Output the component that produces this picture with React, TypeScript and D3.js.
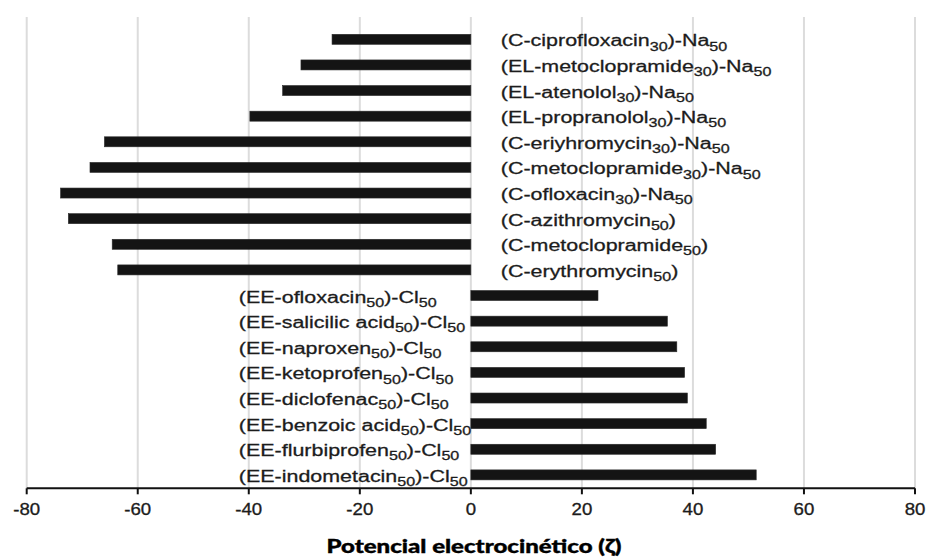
import React from "react";
import * as d3 from "d3";

// Formulation labels, top to bottom; {nn} marks a subscript.
const labels: string[] = [
  "(C-ciprofloxacin{30})-Na{50}",
  "(EL-metoclopramide{30})-Na{50}",
  "(EL-atenolol{30})-Na{50}",
  "(EL-propranolol{30})-Na{50}",
  "(C-eriyhromycin{30})-Na{50}",
  "(C-metoclopramide{30})-Na{50}",
  "(C-ofloxacin{30})-Na{50}",
  "(C-azithromycin{50})",
  "(C-metoclopramide{50})",
  "(C-erythromycin{50})",
  "(EE-ofloxacin{50})-Cl{50}",
  "(EE-salicilic acid{50})-Cl{50}",
  "(EE-naproxen{50})-Cl{50}",
  "(EE-ketoprofen{50})-Cl{50}",
  "(EE-diclofenac{50})-Cl{50}",
  "(EE-benzoic acid{50})-Cl{50}",
  "(EE-flurbiprofen{50})-Cl{50}",
  "(EE-indometacin{50})-Cl{50}",
];

// Zeta potential (mV) for each formulation, same order.
const zeta: number[] = [
  -25.0, -30.6, -33.9, -39.8, -66.0, -68.6, -73.9, -72.5, -64.6, -63.6,
  22.9, 35.4, 37.1, 38.5, 39.0, 42.4, 44.1, 51.4,
];

const xTicks: number[] = [-80, -60, -40, -20, 0, 20, 40, 60, 80];
const xTitle = "Potencial electrocinético (ζ)";

const W = 926;
const H = 558;

const x = d3.scaleLinear().domain([-80, 80]).range([26.7, 915]);
const y = d3.scaleBand<string>().domain(labels).range([26.5, 487.7]).padding(0);

const AXIS_Y = 488.3;
const BAR_H = 10;
const FONT = "'Liberation Sans', Arial, Helvetica, sans-serif";
const STRETCH = 1.24;
const INK = "#1c1c1c";

function parseLabel(s: string) {
  const parts: { text: string; sub: boolean }[] = [];
  const re = /\{(\d+)\}/g;
  let last = 0;
  let m: RegExpExecArray | null;
  while ((m = re.exec(s)) !== null) {
    if (m.index > last) parts.push({ text: s.slice(last, m.index), sub: false });
    parts.push({ text: m[1], sub: true });
    last = m.index + m[0].length;
  }
  if (last < s.length) parts.push({ text: s.slice(last), sub: false });
  return parts;
}

function Label({ text, lx, ly }: { text: string; lx: number; ly: number }) {
  const parts = parseLabel(text);
  let prevSub = false;
  return (
    <text
      transform={`translate(${lx},${ly}) scale(${STRETCH},1)`}
      fontFamily={FONT}
      fontSize={17.3}
      fill={INK}
      stroke={INK}
      strokeWidth={0.3}
    >
      {parts.map((p, i) => {
        const dy = p.sub && !prevSub ? 4.2 : !p.sub && prevSub ? -4.2 : 0;
        prevSub = p.sub;
        return (
          <tspan key={i} dy={dy} fontSize={p.sub ? 13 : 17.3}>
            {p.text}
          </tspan>
        );
      })}
    </text>
  );
}

export default function App() {
  const zero = x(0);
  return (
    <svg
      width={W}
      height={H}
      viewBox={`0 0 ${W} ${H}`}
      style={{ position: "absolute", left: 0, top: 0, background: "#fff" }}
    >
      {/* vertical grid */}
      {xTicks.map((t) => (
        <line
          key={`g${t}`}
          x1={x(t)}
          x2={x(t)}
          y1={17}
          y2={AXIS_Y}
          stroke="#dcdcdc"
          strokeWidth={2}
        />
      ))}

      {/* bars */}
      {labels.map((name, i) => {
        const v = zeta[i];
        const cy = (y(name) as number) + y.bandwidth() / 2;
        return (
          <rect
            key={name}
            x={Math.min(x(v), zero)}
            y={cy - BAR_H / 2}
            width={Math.abs(x(v) - zero)}
            height={BAR_H}
            fill="#141414"
            stroke="#2a2a2a"
            strokeWidth={0.6}
          />
        );
      })}

      {/* category labels */}
      {labels.map((name, i) => {
        const v = zeta[i];
        const cy = (y(name) as number) + y.bandwidth() / 2;
        const lx = v < 0 ? zero + 30 : zero - 232;
        return <Label key={`l${name}`} text={name} lx={lx} ly={cy + 7} />;
      })}

      {/* x axis */}
      <line x1={x(-80)} x2={x(80)} y1={AXIS_Y} y2={AXIS_Y} stroke="#111" strokeWidth={2} />
      {xTicks.map((t) => (
        <g key={`t${t}`}>
          <line x1={x(t)} x2={x(t)} y1={AXIS_Y} y2={AXIS_Y + 6} stroke="#111" strokeWidth={2} />
          <text
            transform={`translate(${x(t)},${AXIS_Y + 26.5}) scale(1.18,1)`}
            textAnchor="middle"
            fontFamily={FONT}
            fontSize={15.8}
            fill={INK}
            stroke={INK}
            strokeWidth={0.3}
          >
            {t}
          </text>
        </g>
      ))}

      {/* axis title */}
      <text
        x={474}
        y={553}
        textAnchor="middle"
        fontFamily="Lato, 'Open Sans', sans-serif"
        fontWeight={900}
        fontSize={19.5}
        textLength={295}
        lengthAdjust="spacingAndGlyphs"
        fill="#000"
        stroke="#000"
        strokeWidth={0.4}
      >
        {xTitle}
      </text>
    </svg>
  );
}
